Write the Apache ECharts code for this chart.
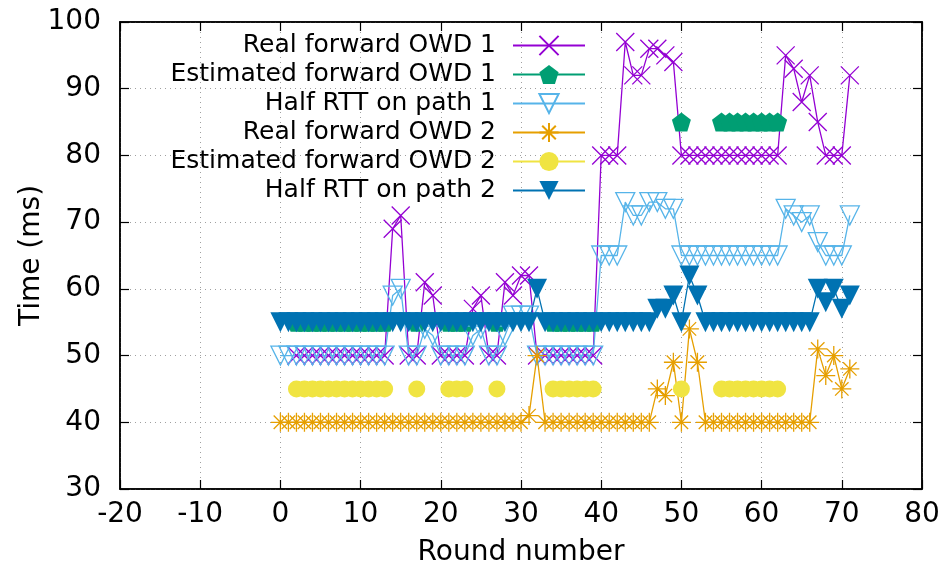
<!DOCTYPE html>
<html>
<head>
<meta charset="utf-8">
<script src="https://cdn.jsdelivr.net/npm/echarts@6/dist/echarts.min.js"></script>
<style>
html,body{margin:0;padding:0;background:#fff;}
#chart{width:946px;height:565px;}
</style>
</head>
<body>
<div id="chart"></div>
<script>
// Round numbers 0..71; null = no sample in that round
var rounds = [];
for (var r = 0; r <= 71; r++) rounds.push(r);

var realOwd1 = [null,null,50,50,50,50,50,50,50,50,50,50,50,50,69,71,50,50,61,59,
  50,50,50,50,57,59,50,50,61,59,62,62,50,50,50,50,50,50,50,50,
  80,80,80,97,92,92,96,96,95,94,80,80,80,80,80,80,80,80,80,80,
  80,80,80,95,93,88,92,85,80,80,80,92];
var estOwd1 = [null,null,55,55,55,55,55,55,55,55,55,55,55,55,null,null,null,55,null,null,
  null,55,55,55,null,null,null,55,null,null,null,null,null,null,55,55,55,55,55,55,
  null,null,null,null,null,null,null,null,null,null,85,null,null,null,null,85,85,85,85,85,
  85,85,85,null,null,null,null,null,null,null,null,null];
var halfRtt1 = [50,50,50,50,50,50,50,50,50,50,50,50,50,50,59,60,50,50,54,53,
  50,50,50,50,53,54,50,50,53,56,56,56,50,50,50,50,50,50,50,50,
  65,65,65,73,71,71,73,73,72,72,65,65,65,65,65,65,65,65,65,65,
  65,65,65,72,71,70,71,67,65,65,65,71];
var realOwd2 = [40,40,40,40,40,40,40,40,40,40,40,40,40,40,40,40,40,40,40,40,
  40,40,40,40,40,40,40,40,40,40,40,41,50,40,40,40,40,40,40,40,
  40,40,40,40,40,40,40,45,44,49,40,54,49,40,40,40,40,40,40,40,
  40,40,40,40,40,40,40,51,47,50,45,48];
var estOwd2 = [null,null,45,45,45,45,45,45,45,45,45,45,45,45,null,null,null,45,null,null,
  null,45,45,45,null,null,null,45,null,null,null,null,null,null,45,45,45,45,45,45,
  null,null,null,null,null,null,null,null,null,null,45,null,null,null,null,45,45,45,45,45,
  45,45,45,null,null,null,null,null,null,null,null,null];
var halfRtt2 = [55,55,55,55,55,55,55,55,55,55,55,55,55,55,55,55,55,55,55,55,
  55,55,55,55,55,55,55,55,55,55,55,55,60,55,55,55,55,55,55,55,
  55,55,55,55,55,55,55,57,57,59,55,62,59,55,55,55,55,55,55,55,
  55,55,55,55,55,55,55,60,58,60,57,59];

var xTicks = [-20,-10,0,10,20,30,40,50,60,70,80];
var yTicks = [30,40,50,60,70,80,90,100];

function pairs(vals) {
  return rounds.map(function (r, i) { return [r, vals[i] === null ? '-' : vals[i]]; });
}

var FONT = 'DejaVu Sans';
var SYM_X = 'path://M0 0L10 10M10 0L0 10';
var SYM_STAR = 'path://M5 0L5 10M0 5L10 5M1.46 1.46L8.54 8.54M8.54 1.46L1.46 8.54';
var SYM_PENT = 'path://M5 0L10 3.8L8.1 10L1.9 10L0 3.8Z';
var SYM_TRI_DOWN = 'path://M0 0L10 0L5 8.66Z';

var seriesDefs = [
  {name:'Real forward OWD 1', data: realOwd1, color:'#9400d3', symbol: SYM_X, size: 18, hollow: true},
  {name:'Estimated forward OWD 1', data: estOwd1, color:'#009e73', symbol: SYM_PENT, size: 19, hollow: false},
  {name:'Half RTT on path 1', data: halfRtt1, color:'#56b4e9', symbol: SYM_TRI_DOWN, size: 19, hollow: true},
  {name:'Real forward OWD 2', data: realOwd2, color:'#e69f00', symbol: SYM_STAR, size: 19, hollow: true},
  {name:'Estimated forward OWD 2', data: estOwd2, color:'#f0e442', symbol: 'circle', size: 17, hollow: false},
  {name:'Half RTT on path 2', data: halfRtt2, color:'#0072b2', symbol: SYM_TRI_DOWN, size: 20, hollow: false}
];

var series = seriesDefs.map(function (d) {
  return {
    name: d.name,
    type: 'line',
    data: pairs(d.data),
    symbol: d.symbol,
    symbolSize: d.size,
    showAllSymbol: true,
    connectNulls: false,
    animation: false,
    lineStyle: {color: d.color, width: 1.3},
    itemStyle: d.hollow ? {color: 'rgba(0,0,0,0)', borderColor: d.color, borderWidth: 1.3}
                        : {color: d.color, borderColor: d.color, borderWidth: 0},
    emphasis: {disabled: true}
  };
});

var legends = seriesDefs.map(function (d, i) {
  return {
    data: [d.name],
    right: 355,
    top: 28 + i * 29,
    align: 'right',
    orient: 'vertical',
    itemWidth: 72,
    itemHeight: 24,
    itemGap: 0,
    selectedMode: false,
    textStyle: {fontFamily: FONT, fontSize: 25, color: '#000', padding: [0, 12, 0, 0]}
  };
});

var gridLine = {show: true, lineStyle: {color: '#a0a0a0', type: [1, 4], width: 1}};

var option = {
  backgroundColor: '#fff',
  animation: false,
  legend: legends,
  grid: {left: 120, right: 24, top: 22, bottom: 76, show: true, borderColor: '#000', borderWidth: 1.5,
         containLabel: false, outerBoundsMode: 'none'},
  xAxis: [{
    type: 'value', min: xTicks[0], max: xTicks[xTicks.length - 1], interval: 10,
    name: 'Round number', nameLocation: 'middle', nameGap: 50, nameMoveOverlap: false,
    nameTextStyle: {fontFamily: FONT, fontSize: 28, color: '#000'},
    axisLine: {show: true, onZero: false, lineStyle: {color: '#000', width: 1.5}},
    axisTick: {show: true, inside: true, length: 9, lineStyle: {color: '#000', width: 1.2}},
    axisLabel: {fontFamily: FONT, fontSize: 28, color: '#000', margin: 12},
    splitLine: gridLine
  }, {
    type: 'value', position: 'top', min: xTicks[0], max: xTicks[xTicks.length - 1], interval: 10,
    axisLine: {show: true, onZero: false, lineStyle: {color: '#000', width: 1.5}},
    axisTick: {show: true, inside: true, length: 9, lineStyle: {color: '#000', width: 1.2}},
    axisLabel: {show: false}, splitLine: {show: false}
  }],
  yAxis: [{
    type: 'value', min: yTicks[0], max: yTicks[yTicks.length - 1], interval: 10,
    name: 'Time (ms)', nameLocation: 'middle', nameGap: 74, nameRotate: 90, nameMoveOverlap: false,
    nameTextStyle: {fontFamily: FONT, fontSize: 28, color: '#000'},
    axisLine: {show: true, onZero: false, lineStyle: {color: '#000', width: 1.5}},
    axisTick: {show: true, inside: true, length: 9, lineStyle: {color: '#000', width: 1.2}},
    axisLabel: {fontFamily: FONT, fontSize: 28, color: '#000', margin: 19},
    splitLine: gridLine
  }, {
    type: 'value', position: 'right', min: yTicks[0], max: yTicks[yTicks.length - 1], interval: 10,
    axisLine: {show: true, onZero: false, lineStyle: {color: '#000', width: 1.5}},
    axisTick: {show: true, inside: true, length: 9, lineStyle: {color: '#000', width: 1.2}},
    axisLabel: {show: false}, splitLine: {show: false}
  }],
  series: series
};

var chart = echarts.init(document.getElementById('chart'), null, {renderer: 'canvas'});
chart.setOption(option);
</script>
</body>
</html>
